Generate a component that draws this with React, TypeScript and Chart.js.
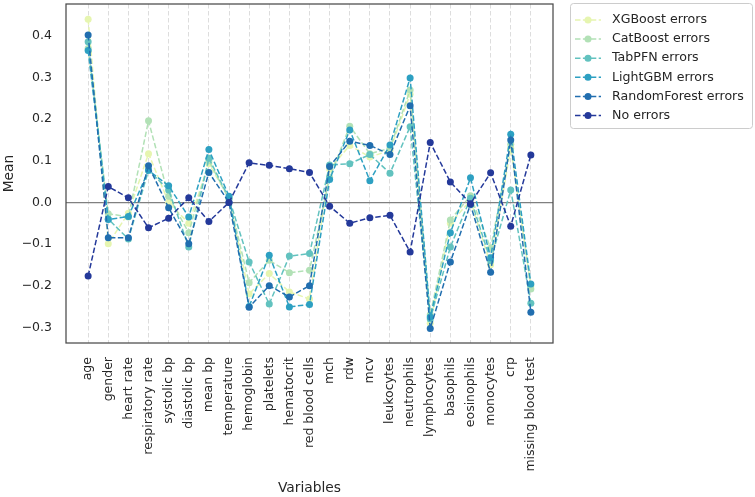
import React, { useEffect, useRef } from 'react';
import { Chart, registerables } from 'chart.js';

Chart.register(...registerables);

const categories = [
  'age', 'gender', 'heart rate', 'respiratory rate', 'systolic bp', 'diastolic bp',
  'mean bp', 'temperature', 'hemoglobin', 'platelets', 'hematocrit', 'red blood cells',
  'mch', 'rdw', 'mcv', 'leukocytes', 'neutrophils', 'lymphocytes', 'basophils',
  'eosinophils', 'monocytes', 'crp', 'missing blood test',
];

const seriesNames = [
  'XGBoost errors', 'CatBoost errors', 'TabPFN errors',
  'LightGBM errors', 'RandomForest errors', 'No errors',
];

const xgboostErrors = [0.44, -0.099, -0.026, 0.117, 0.0, -0.05, 0.093, 0.01, -0.22, -0.171, -0.215, -0.232, 0.08, 0.137, 0.109, 0.125, 0.26, -0.29, -0.05, 0.005, -0.15, 0.13, -0.2];
const catboostErrors = [0.37, -0.027, -0.035, 0.196, 0.015, -0.073, 0.1, 0.008, -0.193, -0.139, -0.169, -0.163, 0.06, 0.183, 0.117, 0.13, 0.27, -0.27, -0.042, 0.016, -0.11, 0.14, -0.208];
const tabpfnErrors = [0.386, -0.04, -0.088, 0.077, 0.03, -0.107, 0.106, 0.01, -0.143, -0.244, -0.129, -0.123, 0.09, 0.093, 0.115, 0.07, 0.182, -0.28, -0.107, 0.01, -0.14, 0.03, -0.242];
const lightgbmErrors = [0.365, -0.041, -0.034, 0.077, 0.04, -0.035, 0.127, 0.015, -0.25, -0.127, -0.251, -0.245, 0.055, 0.174, 0.052, 0.138, 0.299, -0.275, -0.073, 0.059, -0.133, 0.164, -0.196];
const randomForestErrors = [0.402, -0.085, -0.085, 0.088, -0.013, -0.099, 0.072, 0.0, -0.252, -0.2, -0.227, -0.2, 0.086, 0.147, 0.137, 0.115, 0.232, -0.303, -0.143, -0.005, -0.168, 0.15, -0.264];
const noErrors = [-0.177, 0.038, 0.011, -0.061, -0.038, 0.011, -0.046, 0.0, 0.095, 0.089, 0.081, 0.072, -0.009, -0.05, -0.037, -0.031, -0.119, 0.144, 0.049, -0.003, 0.071, -0.057, 0.114];

const yTicks = [-0.3, -0.2, -0.1, 0.0, 0.1, 0.2, 0.3, 0.4];

const colors = ['#e6f5b0', '#b2e1b6', '#62c2bf', '#2da0c2', '#216eaf', '#24399a'];

const FONT = 'DejaVu Sans';
const TEXT = '#262626';

export default function App() {
  const ref = useRef<HTMLCanvasElement>(null);

  useEffect(() => {
    document.body.style.margin = '0';
    const canvas = ref.current;
    if (!canvas) return;
    const all = [xgboostErrors, catboostErrors, tabpfnErrors, lightgbmErrors, randomForestErrors, noErrors];
    const dash = [5.5, 2.4];

    const datasets = all.map((vals, k) => ({
      label: seriesNames[k],
      data: vals.map((v, i) => ({ x: i, y: v })),
      borderColor: colors[k],
      backgroundColor: colors[k],
      pointBackgroundColor: colors[k],
      pointBorderColor: colors[k],
      borderWidth: 1.5,
      borderDash: dash,
      pointRadius: 3.5,
      pointBorderWidth: 0,
      tension: 0,
      fill: false,
      order: all.length - k,
    }));

    const overlay = {
      id: 'overlay',
      afterDraw(chart: any) {
        const ctx = chart.ctx as CanvasRenderingContext2D;
        const a = chart.chartArea;
        ctx.save();
        ctx.strokeStyle = '#4a4a4a';
        ctx.lineWidth = 1.25;
        ctx.setLineDash([]);
        ctx.strokeRect(a.left, a.top, a.right - a.left, a.bottom - a.top);

        // legend
        const lx = 570, ly = 3, lw = 182, lh = 125;
        ctx.beginPath();
        if ((ctx as any).roundRect) (ctx as any).roundRect(lx + 0.5, ly + 0.5, lw, lh, 3);
        else ctx.rect(lx + 0.5, ly + 0.5, lw, lh);
        ctx.fillStyle = 'rgba(255,255,255,0.85)';
        ctx.fill();
        ctx.strokeStyle = '#cccccc';
        ctx.lineWidth = 1;
        ctx.stroke();
        ctx.font = `12.6px "${FONT}"`;
        ctx.textBaseline = 'middle';
        ctx.textAlign = 'left';
        seriesNames.forEach((name, k) => {
          const y = 20 + k * 19.1;
          ctx.strokeStyle = colors[k];
          ctx.lineWidth = 1.5;
          ctx.setLineDash(dash);
          ctx.beginPath();
          ctx.moveTo(575, y);
          ctx.lineTo(601, y);
          ctx.stroke();
          ctx.setLineDash([]);
          ctx.fillStyle = colors[k];
          ctx.beginPath();
          ctx.arc(588, y, 3.5, 0, Math.PI * 2);
          ctx.fill();
          ctx.fillStyle = TEXT;
          ctx.fillText(name, 612, y);
        });
        ctx.restore();
      },
    };

    const chart = new Chart(canvas, {
      type: 'line',
      data: { datasets: datasets as any },
      options: {
        animation: false,
        responsive: false,
        devicePixelRatio: 1,
        layout: { padding: { left: 0, top: 3, right: 202, bottom: 0 } },
        plugins: {
          legend: { display: false },
          tooltip: { enabled: false },
        },
        scales: {
          x: {
            type: 'linear',
            min: -1.1,
            max: 23.1,
            afterBuildTicks: (s: any) => {
              s.ticks = categories.map((_, i) => ({ value: i }));
            },
            afterFit: (s: any) => {
              s.height = 154;
              s.paddingLeft = 0;
              s.paddingRight = 0;
              s.paddingTop = 0;
              s.paddingBottom = 0;
            },
            ticks: {
              autoSkip: false,
              maxRotation: 90,
              minRotation: 90,
              padding: 14,
              color: TEXT,
              font: { family: FONT, size: 12.5 },
              callback: (_v: any, i: number) => categories[i] ?? '',
            },
            grid: { color: '#d9d9d9', lineWidth: 0.9, drawTicks: false },
            border: { display: false, dash: [4.5, 2.5] },
            title: {
              display: true,
              text: 'Variables',
              color: TEXT,
              font: { family: FONT, size: 13.8 },
              padding: { top: 0, bottom: 0.7 },
            },
          },
          y: {
            type: 'linear',
            min: -0.3377,
            max: 0.4766,
            afterBuildTicks: (s: any) => {
              s.ticks = yTicks.map((v) => ({ value: v }));
            },
            afterFit: (s: any) => {
              s.width = 66;
              s.paddingTop = 0;
              s.paddingBottom = 0;
              s.paddingLeft = 0;
              s.paddingRight = 0;
            },
            ticks: {
              padding: 14,
              color: TEXT,
              font: { family: FONT, size: 12.5 },
              callback: (v: any) => {
                const n = Number(v);
                const s = Math.abs(n).toFixed(1);
                return n < -1e-9 ? '\u2212' + s : s;
              },
            },
            grid: {
              drawTicks: false,
              lineWidth: 1.2,
              color: (c: any) => (c.tick && Math.abs(c.tick.value) < 1e-9 ? '#808080' : 'rgba(0,0,0,0)'),
            },
            border: { display: false },
            title: {
              display: true,
              text: 'Mean',
              color: TEXT,
              font: { family: FONT, size: 13.8 },
              padding: { top: 0.8, bottom: 0 },
            },
          },
        },
      } as any,
      plugins: [overlay],
    });

    return () => chart.destroy();
  }, []);

  return (
    <div style={{ width: 755, height: 497 }}>
      <canvas ref={ref} width={755} height={497} style={{ display: 'block', width: 755, height: 497 }} />
    </div>
  );
}
